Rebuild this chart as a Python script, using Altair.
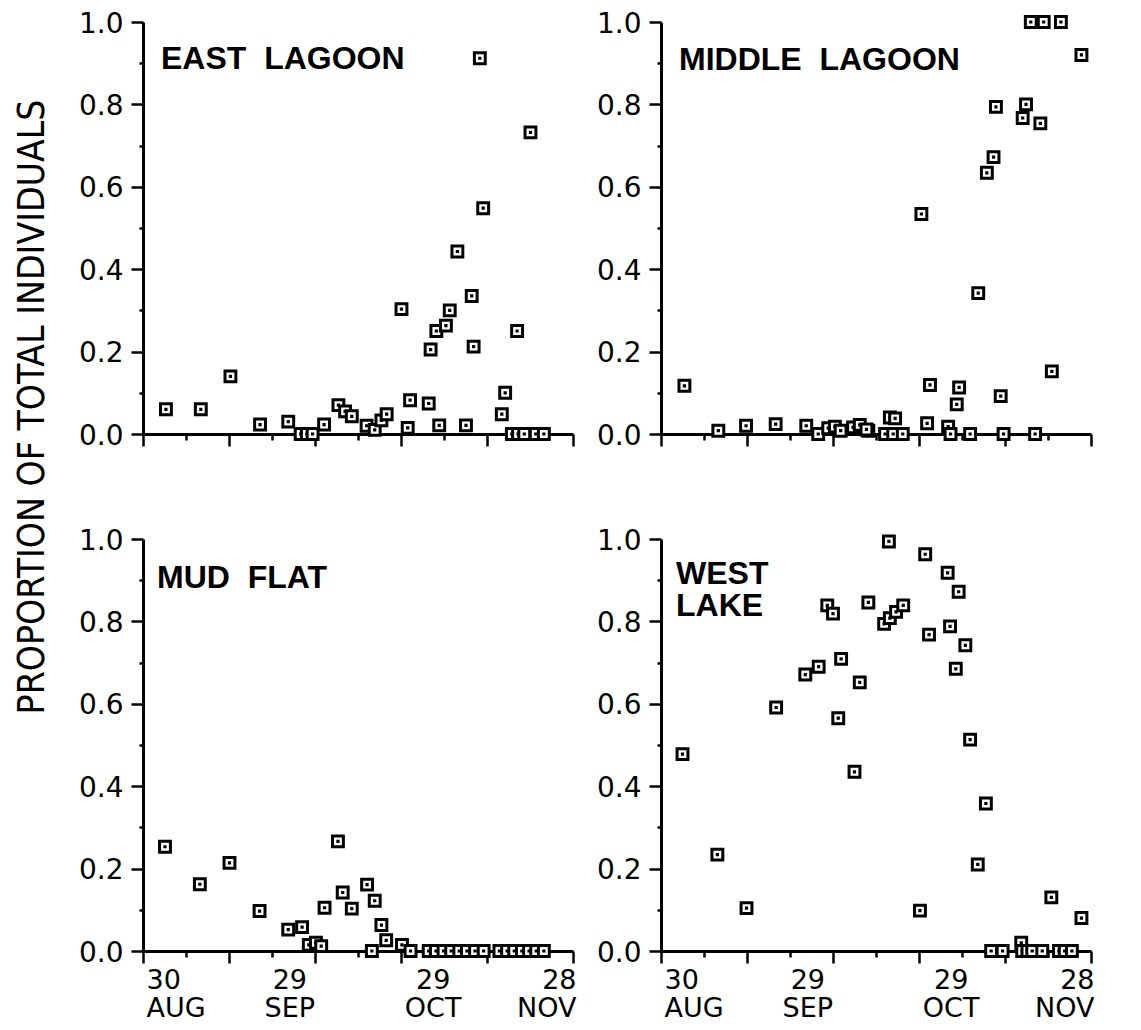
import altair as alt
import pandas as pd

# x = days after 30 AUG (0 = 30 AUG, 30 = 29 SEP, 60 = 29 OCT, 90 = 28 NOV)
east_days = [4.8, 12.1, 18.3, 24.5, 30.4, 33.0, 34.3, 35.5, 37.9, 40.9, 42.3, 43.7,
             46.8, 48.5, 49.9, 51.0, 54.1, 55.4, 55.9, 59.8, 60.2, 61.4, 62.0, 63.4,
             64.2, 65.8, 67.6, 68.8, 69.2, 70.5, 71.2, 75.1, 75.8, 77.2, 78.5, 78.3,
             79.8, 81.1, 82.2, 83.9]
east_vals = [0.06, 0.06, 0.14, 0.023, 0.03, 0.0, 0.0, 0.0, 0.023, 0.07, 0.055, 0.043,
             0.02, 0.01, 0.033, 0.048, 0.303, 0.015, 0.082, 0.074, 0.205, 0.25, 0.021, 0.263,
             0.30, 0.443, 0.021, 0.335, 0.212, 0.912, 0.548, 0.048, 0.10, 0.0, 0.0, 0.25,
             0.0, 0.732, 0.0, 0.0]

middle_days = [4.9, 12.0, 17.8, 24.0, 30.4, 32.9, 35.0, 36.4, 37.6, 40.2, 41.6, 43.4,
               43.0, 46.9, 47.9, 48.6, 49.0, 50.6, 54.5, 55.7, 56.3, 60.1, 60.6, 61.9,
               62.4, 64.7, 66.4, 68.2, 69.6, 70.1, 71.1, 71.7, 75.7, 76.4, 77.4, 78.3,
               79.4, 80.1, 81.8, 83.7, 88.0]
middle_vals = [0.117, 0.008, 0.02, 0.024, 0.02, 0.0, 0.014, 0.018, 0.008, 0.016, 0.022, 0.008,
               0.011, 0.0, 0.04, 0.0, 0.038, 0.0, 0.534, 0.026, 0.119, 0.018, 0.0, 0.072,
               0.113, 0.0, 0.342, 0.634, 0.672, 0.794, 0.092, 0.0, 0.767, 0.80, 1.0, 0.0,
               0.754, 1.0, 0.152, 1.0, 0.92]

mud_days = [4.6, 11.9, 18.1, 24.4, 30.4, 33.3, 34.7, 36.2, 37.3, 38.0, 40.8, 41.8,
            43.7, 46.9, 47.9, 48.5, 49.9, 50.9, 54.2, 56.0,
            59.8, 61.3, 62.9, 64.5, 66.2, 67.8, 69.5, 71.3,
            74.6, 76.2, 77.7, 79.3, 80.8, 82.3, 83.9]
mud_vals = [0.253, 0.162, 0.214, 0.097, 0.052, 0.058, 0.015, 0.02, 0.012, 0.105, 0.266, 0.142,
            0.103, 0.161, 0.0, 0.122, 0.063, 0.026, 0.015, 0.0,
            0.0, 0.0, 0.0, 0.0, 0.0, 0.0, 0.0, 0.0,
            0.0, 0.0, 0.0, 0.0, 0.0, 0.0, 0.0]

west_days = [4.5, 11.8, 17.9, 24.1, 30.2, 33.0, 34.8, 36.0, 37.1, 37.7, 40.5, 41.6,
             43.4, 46.7, 47.7, 47.9, 49.2, 50.7, 54.2, 55.3, 56.1, 60.0, 60.5, 61.7,
             62.3, 63.7, 64.7, 66.3, 68.0, 69.1, 71.5, 75.4, 75.6, 76.7, 77.7, 79.8,
             81.7, 83.3, 84.5, 86.0, 88.0]
west_vals = [0.478, 0.234, 0.104, 0.591, 0.671, 0.69, 0.839, 0.819, 0.565, 0.709, 0.435, 0.652,
             0.846, 0.794, 0.994, 0.808, 0.823, 0.839, 0.098, 0.963, 0.768, 0.918, 0.788, 0.685,
             0.872, 0.742, 0.513, 0.21, 0.358, 0.0, 0.0, 0.02, 0.0, 0.0, 0.0, 0.0,
             0.13, 0.0, 0.0, 0.0, 0.08]

x_label_days = [0, 30, 60, 90]
x_label_day_num = ["30", "29", "29", "28"]
x_label_month = ["AUG", "SEP", "OCT", "NOV"]
x_major_ticks = [0, 18, 36, 54, 72, 90]
x_minor_ticks = [9, 27, 45, 63, 81]
y_major_ticks = [0.0, 0.2, 0.4, 0.6, 0.8, 1.0]
y_minor_ticks = [0.1, 0.3, 0.5, 0.7, 0.9]

y_title = "PROPORTION OF TOTAL INDIVIDUALS"

W, H = 430, 412
FONT = "Liberation Sans"
TICK_FONT = "DejaVu Sans"
SHAPE = "M-1,-1H1V1H-1Z M-0.02,-0.02H0.02V0.02H-0.02Z"

label_expr = " : ".join(
    f"datum.value == {d} ? ['{a}','{b}']" for d, a, b in zip(x_label_days, x_label_day_num, x_label_month)
) + " : ''"

xs = alt.Scale(domain=[0, 90], nice=False, zero=False)
ys = alt.Scale(domain=[0, 1], nice=False, zero=False)


def text_layer(df, line, tx, ty, size=32, bold=True, angle=0, font=FONT, align="left", baseline="alphabetic"):
    kw = dict(align=align, baseline=baseline, font=font, fontSize=size,
              fontWeight="bold" if bold else "normal", color="black")
    if angle:
        kw["angle"] = angle
    return alt.Chart(df).mark_text(**kw).encode(
        x=alt.value(tx), y=alt.value(ty), text=alt.value(line))


def panel(days, vals, title_lines, tx, ty, bottom, extra=None):
    df = pd.DataFrame({"day": days, "prop": vals})
    one = pd.DataFrame({"k": [0]})
    main = alt.Chart(df).mark_point(
        shape=SHAPE, size=118, filled=True, fill="white", stroke="black",
        strokeWidth=3, opacity=1, fillOpacity=1, strokeOpacity=1
    ).encode(
        x=alt.X("day:Q", scale=xs, axis=alt.Axis(
            orient="bottom", values=x_label_days, labels=bottom, labelExpr=label_expr,
            ticks=False, tickSize=0, domain=True, domainColor="black", domainWidth=3,
            grid=False, title=None, labelOverlap=False, labelPadding=16, labelOffset=3,
            labelBaseline="top", labelLineHeight=28, labelFontSize=27)),
        y=alt.Y("prop:Q", scale=ys, axis=alt.Axis(
            orient="left", values=y_major_ticks, format=".1f", ticks=True, tickSize=12,
            tickWidth=2.5, tickColor="black", domain=True, domainColor="black", domainWidth=3,
            grid=False, title=None, labelOverlap=False, labelPadding=8, labelOffset=2,
            labelFontSize=28)),
    )
    ghost1 = alt.Chart(df).mark_point(opacity=0).encode(
        x=alt.X("day:Q", scale=xs, axis=alt.Axis(
            orient="bottom", values=x_major_ticks, labels=False, domain=False, ticks=True,
            tickSize=12, tickWidth=2.5, tickColor="black", grid=False, title=None)),
        y=alt.Y("prop:Q", scale=ys, axis=alt.Axis(
            orient="left", values=y_minor_ticks, labels=False, domain=False, ticks=True,
            tickSize=4, tickWidth=2.5, tickColor="black", grid=False, title=None)),
    )
    ghost2 = alt.Chart(df).mark_point(opacity=0).encode(
        x=alt.X("day:Q", scale=xs, axis=alt.Axis(
            orient="bottom", values=x_minor_ticks, labels=False, domain=False, ticks=True,
            tickSize=6, tickWidth=2.5, tickColor="black", grid=False, title=None)),
        y=alt.Y("prop:Q", scale=ys, axis=None),
    )
    layers = [main, ghost1, ghost2]
    for i, line in enumerate(title_lines):
        layers.append(text_layer(one, line, tx, ty + 32 * i))
    if extra is not None:
        layers.append(extra)
    return alt.layer(*layers).resolve_axis(x="independent", y="independent").properties(width=W, height=H)


one_row = pd.DataFrame({"k": [0]})
ytitle = text_layer(one_row, y_title, -110, 385, size=37, bold=False, angle=270,
                    font="DejaVu Sans Condensed", align="center", baseline="middle")

p1 = panel(east_days, east_vals, ["EAST\u00a0 LAGOON"], 18, 47, False, extra=ytitle)
p2 = panel(middle_days, middle_vals, ["MIDDLE\u00a0 LAGOON"], 18, 48, False)
p3 = panel(mud_days, mud_vals, ["MUD\u00a0 FLAT"], 14, 49, True)
p4 = panel(west_days, west_vals, ["WEST", "LAKE"], 15, 45, True)

chart = alt.concat(p1, p2, p3, p4, columns=2, spacing={"row": 105, "column": 88},
                   bounds="flush").properties(
    padding={"left": 5, "top": 2, "right": 0, "bottom": 0}
).configure_view(stroke=None).configure_axis(
    labelFont=TICK_FONT, labelColor="black"
)

chart.save("out.html", embed_options={"renderer": "svg", "actions": False})
